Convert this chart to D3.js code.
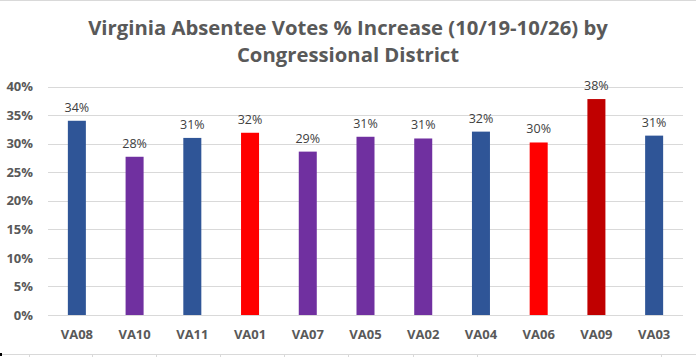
<!DOCTYPE html>
<html>
<head>
<meta charset="utf-8">
<script src="https://cdn.jsdelivr.net/npm/d3@7"></script>
<style>
  html, body { margin: 0; padding: 0; background: #fff; }
  svg { display: block; }
</style>
</head>
<body>
<svg id="chart" width="696" height="357"></svg>
<script>
const categories = ["VA08","VA10","VA11","VA01","VA07","VA05","VA02","VA04","VA06","VA09","VA03"];
const values = [0.340, 0.277, 0.310, 0.319, 0.286, 0.312, 0.309, 0.321, 0.302, 0.378, 0.314];
const barColors = ["#2F5597","#7030A0","#2F5597","#FF0000","#7030A0","#7030A0","#7030A0","#2F5597","#FF0000","#C00000","#2F5597"];
const yTicks = [0, 0.05, 0.10, 0.15, 0.20, 0.25, 0.30, 0.35, 0.40];
const titleLines = ["Virginia Absentee Votes % Increase (10/19-10/26) by", "Congressional District"];
const cellTicks = [29, 92, 156, 220, 284, 348, 413, 477, 661];

(function () {
const svg = d3.select("#chart");
const W = 696, H = 357;
const plotLeft = 48, plotRight = 683, plotTop = 86.5, plotBottom = 315;

// spreadsheet frame lines
svg.append("line").attr("x1",0).attr("x2",W).attr("y1",0.5).attr("y2",0.5).attr("stroke","#d9d9d9");
svg.append("line").attr("x1",0).attr("x2",W).attr("y1",354.5).attr("y2",354.5).attr("stroke","#d9d9d9");
svg.selectAll("line.cell").data(cellTicks).join("line").attr("class","cell")
  .attr("x1",d=>d+0.5).attr("x2",d=>d+0.5).attr("y1",354).attr("y2",357).attr("stroke","#d9d9d9");
svg.append("rect").attr("x",0).attr("y",353).attr("width",2).attr("height",3).attr("fill","#000");

const x = d3.scaleBand().domain(categories).range([plotLeft, plotRight]).paddingInner(0.688).paddingOuter(0.344);
const y = d3.scaleLinear().domain([0, 0.4]).range([plotBottom, plotTop]);

// gridlines
svg.append("g").selectAll("line").data(yTicks).join("line")
  .attr("x1", plotLeft).attr("x2", plotRight)
  .attr("y1", d => Math.round(y(d)) + 0.5).attr("y2", d => Math.round(y(d)) + 0.5)
  .attr("stroke", "#d9d9d9").attr("stroke-width", 1);

// y axis labels
const yAxis = d3.axisLeft(y).tickValues(yTicks).tickFormat(d3.format(".0%")).tickSize(0).tickPadding(0);
const ya = svg.append("g").attr("transform", `translate(33,0)`).call(yAxis);
ya.select(".domain").remove();
ya.selectAll("text").attr("fill","#595959").attr("font-family","'Open Sans', sans-serif")
  .attr("font-weight","bold").attr("font-size","13px");

// x axis labels
const xAxis = d3.axisBottom(x).tickSize(0).tickPadding(0);
const xa = svg.append("g").attr("transform", `translate(0,${plotBottom})`).call(xAxis);
xa.select(".domain").remove();
xa.selectAll("text").attr("fill","#595959").attr("font-family","'Open Sans', sans-serif")
  .attr("font-weight","bold").attr("font-size","13px").attr("dy", null).attr("y", 24);

// bars
svg.append("g").selectAll("rect").data(categories).join("rect")
  .attr("x", d => x(d)).attr("width", x.bandwidth())
  .attr("y", (d,i) => y(values[i])).attr("height", (d,i) => y(0) - y(values[i]))
  .attr("fill", (d,i) => barColors[i]);

// data labels
svg.append("g").selectAll("text").data(categories).join("text")
  .attr("x", d => x(d) + x.bandwidth()/2)
  .attr("y", (d,i) => y(values[i]) - 9)
  .attr("text-anchor","middle")
  .attr("fill","#404040").attr("font-family","'Open Sans', sans-serif").attr("font-size","12.5px")
  .text((d,i) => d3.format(".0%")(values[i]));

// title
const title = svg.append("g");
title.selectAll("text").data(titleLines).join("text")
  .attr("x", 348).attr("y", (d,i) => 35 + i*27)
  .attr("text-anchor","middle").attr("fill","#595959")
  .attr("font-family","'Open Sans', sans-serif").attr("font-weight","bold")
  .attr("font-size","19px")
  .text(d => d);
const t0 = title.select("text").node();
const w0 = t0.getComputedTextLength();
const fs = 19 * 520 / w0;
title.selectAll("text").attr("font-size", fs + "px");
})();
</script>
</body>
</html>
